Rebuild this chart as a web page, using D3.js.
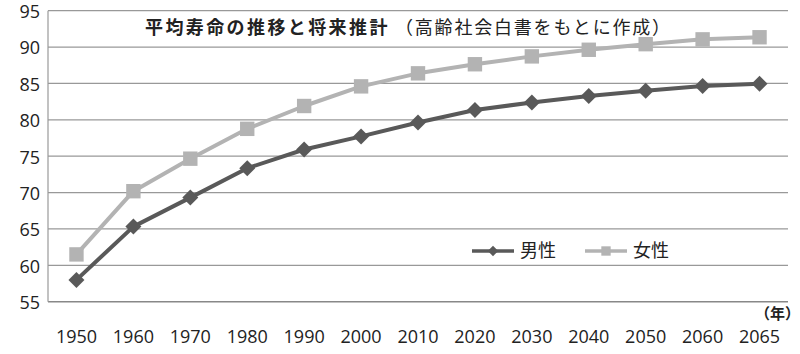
<!DOCTYPE html>
<html>
<head>
<meta charset="utf-8">
<script src="https://cdn.jsdelivr.net/npm/d3@7"></script>
<style>
  body { margin: 0; background: #fff; }
  svg { display: block; }
</style>
</head>
<body>
<svg id="chart" width="800" height="354"></svg>
<script>
// 年・男女別の平均寿命
const years = ['1950', '1960', '1970', '1980', '1990', '2000', '2010', '2020', '2030', '2040', '2050', '2060', '2065'];
const male = [58.0, 65.32, 69.31, 73.35, 75.92, 77.72, 79.64, 81.34, 82.39, 83.27, 83.99, 84.66, 84.95];
const female = [61.5, 70.19, 74.66, 78.76, 81.90, 84.60, 86.39, 87.64, 88.72, 89.63, 90.40, 91.06, 91.35];
const yTicks = [55, 60, 65, 70, 75, 80, 85, 90, 95];

const svg = d3.select('#chart');
const plot = { left: 48, right: 788, top: 10.7, bottom: 301.7 };
const numFont = '"Open Sans", "Noto Sans", sans-serif';
const jpFont = '"Noto Sans CJK JP", sans-serif';

const x = d3.scaleBand().domain(years).range([plot.left, plot.right]);
const y = d3.scaleLinear().domain([55, 95]).range([plot.bottom, plot.top]);
const cx = d => x(d) + x.bandwidth() / 2;

// マーカー（Excel 風のひし形・四角）
const diamond = r => `M0,${-r}L${r},0L0,${r}L${-r},0Z`;
const square = r => `M${-r},${-r}H${r}V${r}H${-r}Z`;

// グリッド線
svg.append('g').selectAll('line')
  .data(yTicks)
  .join('line')
  .attr('x1', plot.left).attr('x2', plot.right)
  .attr('y1', d => y(d)).attr('y2', d => y(d))
  .attr('stroke', d => d === 55 ? '#888' : '#999')
  .attr('stroke-width', d => d === 55 ? 1.5 : 1.2);

svg.append('line')
  .attr('x1', plot.left).attr('x2', plot.left)
  .attr('y1', plot.top).attr('y2', plot.bottom)
  .attr('stroke', '#999').attr('stroke-width', 1.2);

// y 目盛
svg.append('g').selectAll('text')
  .data(yTicks)
  .join('text')
  .attr('x', 40).attr('y', d => y(d) + 1)
  .attr('dy', '0.35em')
  .attr('text-anchor', 'end')
  .style('font-family', numFont).style('font-size', '18px').attr('fill', '#222')
  .text(d => d);

// x 目盛
svg.append('g').selectAll('text')
  .data(years)
  .join('text')
  .attr('x', cx).attr('y', 343)
  .attr('text-anchor', 'middle')
  .style('font-family', numFont).style('font-size', '18px').attr('fill', '#222')
  .text(d => d);

svg.append('text')
  .attr('x', 800).attr('y', 319).attr('text-anchor', 'end')
  .style('font-family', jpFont).style('font-size', '15px').style('font-weight', 'bold').attr('fill', '#222')
  .text('（年）');

// 折れ線
const series = [
  { name: '男性', values: male, color: '#595959', shape: diamond, r: 8 },
  { name: '女性', values: female, color: '#b3b3b3', shape: square, r: 7.2 }
];

const line = d3.line()
  .x((d, i) => cx(years[i]))
  .y(d => y(d));

series.slice().reverse().forEach(s => {
  svg.append('path')
    .datum(s.values)
    .attr('d', line)
    .attr('fill', 'none')
    .attr('stroke', s.color)
    .attr('stroke-width', 4)
    .attr('stroke-linejoin', 'round');
  svg.append('g').selectAll('path')
    .data(s.values)
    .join('path')
    .attr('transform', (d, i) => `translate(${cx(years[i])},${y(d)})`)
    .attr('d', s.shape(s.r))
    .attr('fill', s.color);
});

// タイトル
svg.append('text')
  .attr('x', 145).attr('y', 34)
  .style('font-family', jpFont).style('font-size', '18px').style('font-weight', 'bold')
  .style('letter-spacing', '2.4px')
  .attr('fill', '#222')
  .text('平均寿命の推移と将来推計');
svg.append('text')
  .attr('x', 395).attr('y', 34)
  .style('font-family', jpFont).style('font-size', '18px')
  .style('letter-spacing', '1.8px')
  .attr('fill', '#222')
  .text('（高齢社会白書をもとに作成）');

// 凡例
const legendX = [472, 585];
series.forEach((s, i) => {
  const g = svg.append('g').attr('transform', `translate(${legendX[i]},251)`);
  g.append('line').attr('x1', 0).attr('x2', 42).attr('stroke', s.color).attr('stroke-width', 3.5);
  g.append('path').attr('transform', 'translate(21,0)')
    .attr('d', s.shape(s.r * 0.65)).attr('fill', s.color);
  g.append('text').attr('x', 48).attr('dy', '0.36em')
    .style('font-family', jpFont).style('font-size', '18px').attr('fill', '#222')
    .text(s.name);
});
</script>
</body>
</html>
